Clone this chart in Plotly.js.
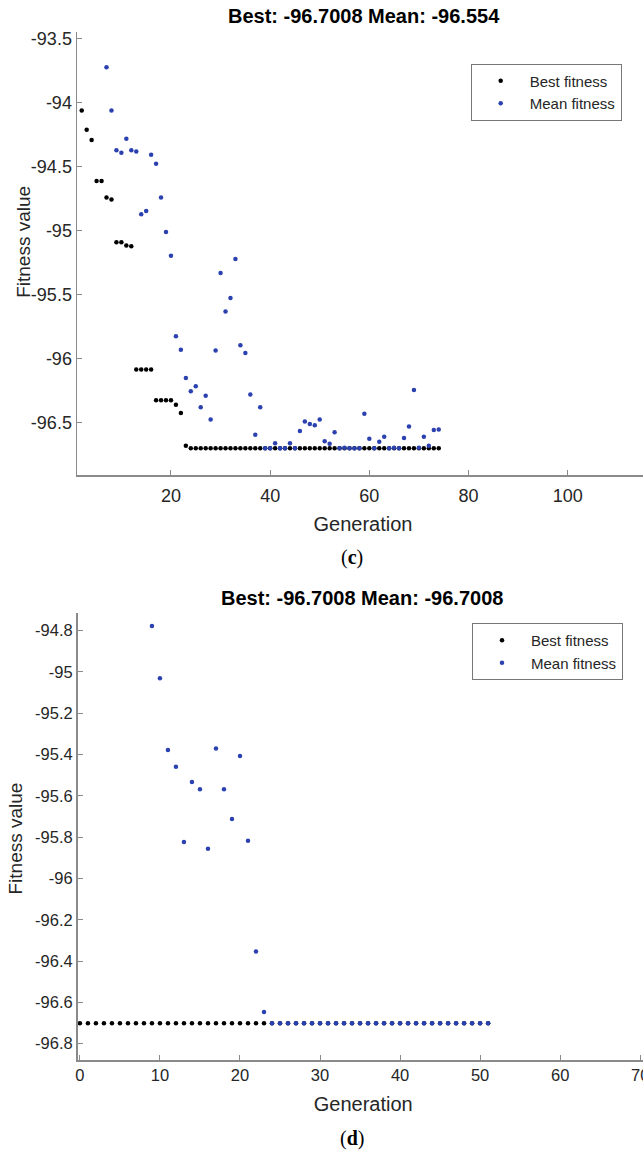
<!DOCTYPE html>
<html>
<head>
<meta charset="utf-8">
<script src="https://cdn.plot.ly/plotly-3.0.1.min.js"></script>
<style>
  html, body { margin: 0; padding: 0; background: #fff; overflow: hidden; }
  #chart { width: 649px; height: 1153px; }
</style>
</head>
<body>
<div id="chart"></div>
<script>
// ---------- Data: panel (c) ----------
const genBestC = [2,3,4,5,6,7,8,9,10,11,12,13,14,15,16,17,18,19,20,21,22,23,
  24,25,26,27,28,29,30,31,32,33,34,35,36,37,38,39,40,41,42,43,44,45,46,47,48,49,
  50,51,52,53,54,55,56,57,58,59,60,61,62,63,64,65,66,67,68,69,70,71,72,73,74];
const bestC = [-94.06,-94.21,-94.29,-94.61,-94.61,-94.74,-94.755,-95.09,-95.09,-95.115,-95.12,
  -96.085,-96.085,-96.085,-96.085,-96.325,-96.325,-96.325,-96.325,-96.36,-96.425,-96.68,
  -96.7008,-96.7008,-96.7008,-96.7008,-96.7008,-96.7008,-96.7008,-96.7008,-96.7008,-96.7008,
  -96.7008,-96.7008,-96.7008,-96.7008,-96.7008,-96.7008,-96.7008,-96.7008,-96.7008,-96.7008,
  -96.7008,-96.7008,-96.7008,-96.7008,-96.7008,-96.7008,-96.7008,-96.7008,-96.7008,-96.7008,
  -96.7008,-96.7008,-96.7008,-96.7008,-96.7008,-96.7008,-96.7008,-96.7008,-96.7008,-96.7008,
  -96.7008,-96.7008,-96.7008,-96.7008,-96.7008,-96.7008,-96.7008,-96.7008,-96.7008,-96.7008,
  -96.7008];
const genMeanC = [7,8,9,10,11,12,13,14,15,16,17,18,19,20,21,22,23,24,25,26,27,28,29,30,31,
  32,33,34,35,36,37,38,39,40,41,42,43,44,45,46,47,48,49,50,51,52,53,54,55,56,57,58,59,
  60,61,62,63,64,65,66,67,68,69,70,71,72,73,74];
const meanC = [-93.72,-94.06,-94.37,-94.39,-94.28,-94.37,-94.38,-94.87,-94.845,-94.405,-94.475,
  -94.74,-95.01,-95.195,-95.825,-95.93,-96.15,-96.255,-96.215,-96.38,-96.29,-96.475,-95.935,
  -95.33,-95.63,-95.525,-95.22,-95.895,-95.955,-96.28,-96.595,-96.38,-96.7008,-96.7008,-96.66,
  -96.7008,-96.7008,-96.66,-96.7008,-96.565,-96.49,-96.51,-96.52,-96.475,-96.645,-96.665,-96.575,
  -96.7008,-96.695,-96.7008,-96.7008,-96.7008,-96.43,-96.625,-96.7008,-96.65,-96.61,-96.7008,
  -96.695,-96.7008,-96.62,-96.53,-96.245,-96.695,-96.61,-96.68,-96.557,-96.554];
const yTickValsC = [-93.5,-94,-94.5,-95,-95.5,-96,-96.5];
const yTickTextC = ['-93.5','-94','-94.5','-95','-95.5','-96','-96.5'];
const xTickValsC = [20,40,60,80,100];
const xTickTextC = ['20','40','60','80','100'];

// ---------- Data: panel (d) ----------
const genBestD = [0,1,2,3,4,5,6,7,8,9,10,11,12,13,14,15,16,17,18,19,20,21,22,23,24,25,
  26,27,28,29,30,31,32,33,34,35,36,37,38,39,40,41,42,43,44,45,46,47,48,49,50,51];
const bestD = [-96.7008,-96.7008,-96.7008,-96.7008,-96.7008,-96.7008,-96.7008,-96.7008,
  -96.7008,-96.7008,-96.7008,-96.7008,-96.7008,-96.7008,-96.7008,-96.7008,-96.7008,-96.7008,
  -96.7008,-96.7008,-96.7008,-96.7008,-96.7008,-96.7008,-96.7008,-96.7008,-96.7008,-96.7008,
  -96.7008,-96.7008,-96.7008,-96.7008,-96.7008,-96.7008,-96.7008,-96.7008,-96.7008,-96.7008,
  -96.7008,-96.7008,-96.7008,-96.7008,-96.7008,-96.7008,-96.7008,-96.7008,-96.7008,-96.7008,
  -96.7008,-96.7008,-96.7008,-96.7008];
const genMeanD = [9,10,11,12,13,14,15,16,17,18,19,20,21,22,23,24,25,26,27,28,29,30,31,32,
  33,34,35,36,37,38,39,40,41,42,43,44,45,46,47,48,49,50,51];
const meanD = [-94.777,-95.03,-95.378,-95.459,-95.823,-95.533,-95.568,-95.856,-95.371,-95.568,
  -95.712,-95.407,-95.817,-96.354,-96.646,-96.7008,-96.7008,-96.7008,-96.7008,-96.7008,
  -96.7008,-96.7008,-96.7008,-96.7008,-96.7008,-96.7008,-96.7008,-96.7008,-96.7008,-96.7008,
  -96.7008,-96.7008,-96.7008,-96.7008,-96.7008,-96.7008,-96.7008,-96.7008,-96.7008,-96.7008,
  -96.7008,-96.7008,-96.7008];
const yTickValsD = [-94.8,-95,-95.2,-95.4,-95.6,-95.8,-96,-96.2,-96.4,-96.6,-96.8];
const yTickTextD = ['-94.8','-95','-95.2','-95.4','-95.6','-95.8','-96','-96.2','-96.4','-96.6','-96.8'];
const xTickValsD = [0,10,20,30,40,50,60,70];
const xTickTextD = ['0','10','20','30','40','50','60','70'];

const seriesNames = ['Best fitness', 'Mean fitness'];
const titleC = 'Best: -96.7008 Mean: -96.554';
const titleD = 'Best: -96.7008 Mean: -96.7008';

// ---------- Layout helpers ----------
const W = 649, H = 1153;
const px = v => v / W;
const py = v => 1 - v / H;
const FONT = 'Liberation Sans, Arial, sans-serif';
const AXC = '#8a8a8a';
const BLUE = '#2c41b0';

const traces = [
  {x: genBestC, y: bestC, name: seriesNames[0], type: 'scatter', mode: 'markers',
   marker: {color: '#000', size: 4.5}, xaxis: 'x', yaxis: 'y', legend: 'legend'},
  {x: genMeanC, y: meanC, name: seriesNames[1], type: 'scatter', mode: 'markers',
   marker: {color: BLUE, size: 4.5}, xaxis: 'x', yaxis: 'y', legend: 'legend'},
  {x: genBestD, y: bestD, name: seriesNames[0], type: 'scatter', mode: 'markers',
   marker: {color: '#000', size: 4.5}, xaxis: 'x2', yaxis: 'y2', legend: 'legend2'},
  {x: genMeanD, y: meanD, name: seriesNames[1], type: 'scatter', mode: 'markers',
   marker: {color: BLUE, size: 4.5}, xaxis: 'x2', yaxis: 'y2', legend: 'legend2'}
];

function axisBase(fs) {
  return {
    showline: true, linecolor: AXC, linewidth: 1.5, mirror: false,
    showgrid: false, zeroline: false,
    ticks: 'inside', ticklen: 5, tickwidth: 1, tickcolor: AXC,
    tickfont: {family: FONT, size: fs, color: '#262626'},
    tickmode: 'array', ticklabeloverflow: 'allow'
  };
}

const layout = {
  width: W, height: H,
  margin: {l: 0, r: 0, t: 0, b: 0},
  paper_bgcolor: '#fff', plot_bgcolor: '#fff',
  showlegend: true,
  xaxis: Object.assign(axisBase(18), {
    domain: [px(77), 1], anchor: 'y', range: [1.05, 116.4],
    tickvals: xTickValsC, ticktext: xTickTextC, ticklabelstandoff: 4,
    title: {text: 'Generation', font: {family: FONT, size: 20, color: '#262626'}, standoff: 12}
  }),
  yaxis: Object.assign(axisBase(18), {
    domain: [py(475), py(31.7)], anchor: 'x', range: [-96.909, -93.443],
    tickvals: yTickValsC, ticktext: yTickTextC
  }),
  xaxis2: Object.assign(axisBase(16.5), {
    domain: [px(77.5), 1], anchor: 'y2', range: [-0.3, 71.1],
    tickvals: xTickValsD, ticktext: xTickTextD,
    title: {text: 'Generation', font: {family: FONT, size: 20, color: '#262626'}, standoff: 13}
  }),
  yaxis2: Object.assign(axisBase(16.5), {
    domain: [py(1060), py(613.3)], anchor: 'x2', range: [-96.879, -94.716],
    tickvals: yTickValsD, ticktext: yTickTextD
  }),
  legend: {
    x: px(470.7), y: py(63.5), xanchor: 'left', yanchor: 'top',
    bgcolor: '#fff', bordercolor: '#777', borderwidth: 1,
    font: {family: FONT, size: 15, color: '#262626'},
    itemwidth: 48, tracegroupgap: 0
  },
  legend2: {
    x: px(472), y: py(623), xanchor: 'left', yanchor: 'top',
    bgcolor: '#fff', bordercolor: '#777', borderwidth: 1,
    font: {family: FONT, size: 15, color: '#262626'},
    itemwidth: 48, tracegroupgap: 0
  },
  annotations: [
    {text: '<b>' + titleC + '</b>', xref: 'paper', yref: 'paper', x: px(364), y: py(16.3),
     xanchor: 'center', yanchor: 'middle', showarrow: false,
     font: {family: FONT, size: 20, color: '#000'}},
    {text: '<b>' + titleD + '</b>', xref: 'paper', yref: 'paper', x: px(362), y: py(598),
     xanchor: 'center', yanchor: 'middle', showarrow: false,
     font: {family: FONT, size: 20, color: '#000'}},
    {text: 'Fitness value', xref: 'paper', yref: 'paper', x: px(23.3), y: py(241.5),
     xanchor: 'center', yanchor: 'middle', textangle: -90, showarrow: false,
     font: {family: FONT, size: 19, color: '#262626'}},
    {text: 'Fitness value', xref: 'paper', yref: 'paper', x: px(15), y: py(838.5),
     xanchor: 'center', yanchor: 'middle', textangle: -90, showarrow: false,
     font: {family: FONT, size: 19, color: '#262626'}},
    {text: '(<b>c</b>)', xref: 'paper', yref: 'paper', x: px(352), y: py(557),
     xanchor: 'center', yanchor: 'middle', showarrow: false,
     font: {family: 'Liberation Serif, DejaVu Serif, serif', size: 20, color: '#000'}},
    {text: '(<b>d</b>)', xref: 'paper', yref: 'paper', x: px(351.5), y: py(1138),
     xanchor: 'center', yanchor: 'middle', showarrow: false,
     font: {family: 'Liberation Serif, DejaVu Serif, serif', size: 20, color: '#000'}}
  ]
};

Plotly.newPlot('chart', traces, layout, {staticPlot: true, displayModeBar: false});
</script>
</body>
</html>
